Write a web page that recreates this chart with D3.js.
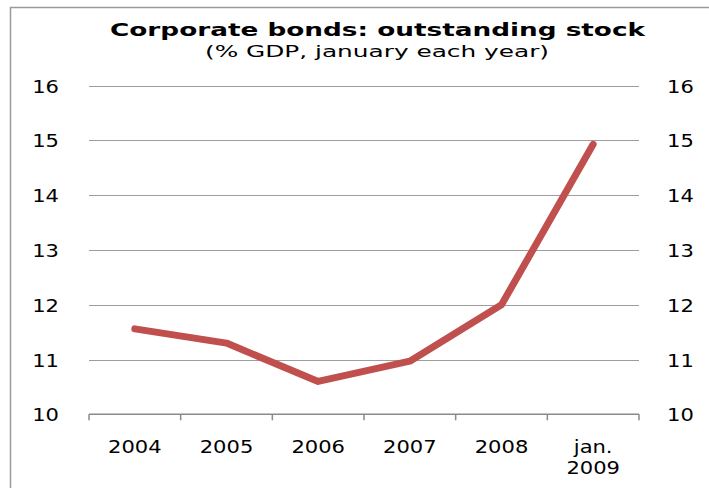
<!DOCTYPE html>
<html>
<head>
<meta charset="utf-8">
<script src="https://cdn.jsdelivr.net/npm/d3@7/dist/d3.min.js"></script>
<style>
  html, body { margin: 0; padding: 0; background: #fff; }
  svg { display: block; }
  text { font-family: "DejaVu Sans", Verdana, sans-serif; fill: #000; }
</style>
</head>
<body>
<div id="chart"></div>
<script>
// Corporate bonds outstanding stock, % of GDP (January of each year)
const categories = ["2004", "2005", "2006", "2007", "2008", "jan.\n2009"];
const values = [11.56, 11.3, 10.6, 10.97, 12.0, 14.93];
const yTicks = [10, 11, 12, 13, 14, 15, 16];

const W = 709, H = 488;
const margin = { left: 89, right: 70, top: 86, bottom: 74 };
const STRETCH = 1.17;   // glyphs are drawn a bit wider than the font's natural width

const svg = d3.select("#chart").append("svg")
  .attr("width", W).attr("height", H);

// frame around the chart
svg.append("rect")
  .attr("x", 10.5).attr("y", 7.5)
  .attr("width", W + 20).attr("height", H + 20)
  .attr("fill", "none").attr("stroke", "#9a9a9a").attr("stroke-width", 1.5);

const x = d3.scaleBand()
  .domain(categories)
  .range([margin.left, 639])
  .paddingInner(0).paddingOuter(0);

const y = d3.scaleLinear()
  .domain([10, 16])
  .range([414.3, 85.7]);

// title + subtitle
svg.append("text")
  .attr("x", 377.5).attr("y", 36)
  .attr("text-anchor", "middle")
  .attr("font-size", 18).attr("font-weight", "bold")
  .attr("textLength", 535).attr("lengthAdjust", "spacingAndGlyphs")
  .text("Corporate bonds: outstanding stock");

svg.append("text")
  .attr("x", 377).attr("y", 57)
  .attr("text-anchor", "middle")
  .attr("font-size", 16)
  .attr("textLength", 344).attr("lengthAdjust", "spacingAndGlyphs")
  .text("(% GDP, january each year)");

// horizontal gridlines (above the baseline)
svg.append("g")
  .selectAll("line")
  .data(yTicks.filter(d => d > 10))
  .join("line")
  .attr("x1", margin.left).attr("x2", 639)
  .attr("y1", d => Math.round(y(d)) + 0.5).attr("y2", d => Math.round(y(d)) + 0.5)
  .attr("stroke", "#9d9d9d").attr("stroke-width", 1);

// category axis along the bottom, ticks on band boundaries
const xAxisG = svg.append("g");
xAxisG.append("line")
  .attr("x1", margin.left).attr("x2", 639)
  .attr("y1", y(10)).attr("y2", y(10))
  .attr("stroke", "#8a8a8a").attr("stroke-width", 1.5);
const bounds = categories.map(c => x(c)).concat([x.range()[1]]);
xAxisG.selectAll("line.tick")
  .data(bounds)
  .join("line")
  .attr("class", "tick")
  .attr("x1", d => d).attr("x2", d => d)
  .attr("y1", y(10)).attr("y2", y(10) + 6)
  .attr("stroke", "#8a8a8a").attr("stroke-width", 1.5);

// category labels (two-line for the last one)
const catLabels = svg.append("g");
categories.forEach(c => {
  const cx = x(c) + x.bandwidth() / 2;
  const lines = c.split("\n");
  const t = catLabels.append("text")
    .attr("transform", `translate(${cx},453) scale(${STRETCH},1)`)
    .attr("text-anchor", "middle")
    .attr("font-size", 18);
  lines.forEach((ln, i) => {
    t.append("tspan").attr("x", 0).attr("dy", i === 0 ? 0 : 21).text(ln);
  });
});

// value labels on both sides
const yl = svg.append("g");
yTicks.forEach(v => {
  yl.append("text")
    .attr("transform", `translate(59,${y(v) + 7}) scale(${STRETCH},1)`)
    .attr("text-anchor", "end")
    .attr("font-size", 18)
    .text(v);
  yl.append("text")
    .attr("transform", `translate(667,${y(v) + 7}) scale(${STRETCH},1)`)
    .attr("text-anchor", "start")
    .attr("font-size", 18)
    .text(v);
});

// data line
const line = d3.line()
  .x((d, i) => x(categories[i]) + x.bandwidth() / 2)
  .y(d => y(d));

svg.append("path")
  .datum(values)
  .attr("d", line)
  .attr("fill", "none")
  .attr("stroke", "#c0504d")
  .attr("stroke-width", 7)
  .attr("stroke-linecap", "round")
  .attr("stroke-linejoin", "round");
</script>
</body>
</html>
